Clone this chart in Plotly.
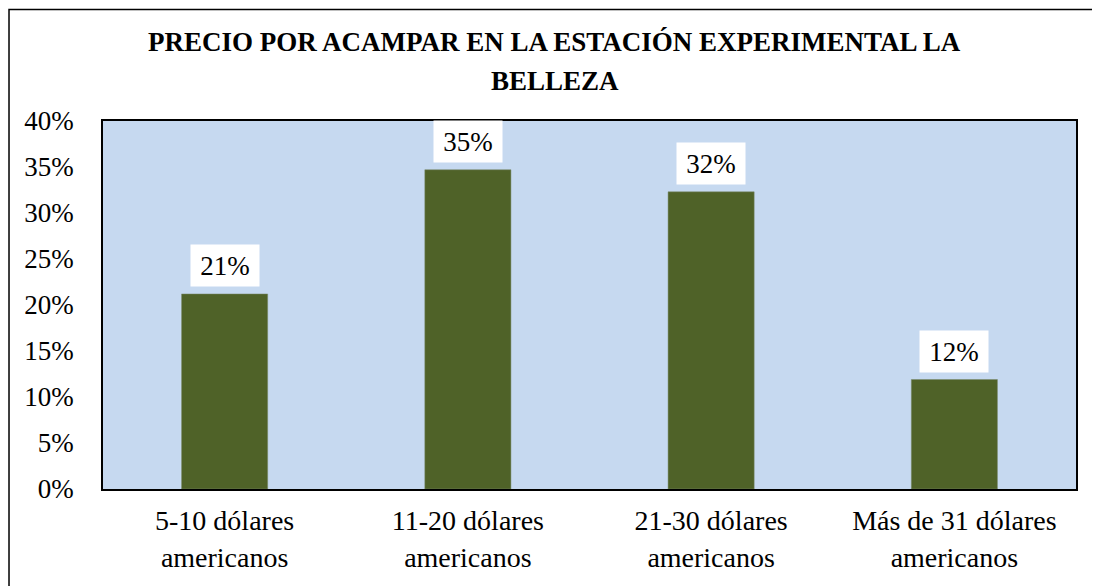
import plotly.graph_objects as go

categories = ["5-10 dólares<br>americanos", "11-20 dólares<br>americanos",
              "21-30 dólares<br>americanos", "Más de 31 dólares<br>americanos"]
values = [0.212, 0.347, 0.323, 0.119]
labels = ["21%", "35%", "32%", "12%"]
y_ticks = [0, 0.05, 0.10, 0.15, 0.20, 0.25, 0.30, 0.35, 0.40]
title_lines = ["PRECIO POR ACAMPAR EN LA ESTACIÓN EXPERIMENTAL LA", "BELLEZA"]

SERIF = "Liberation Serif, Times New Roman, serif"

fig = go.Figure()
fig.add_bar(x=categories, y=values, marker_color="#4F6228",
            marker_line=dict(color="#7a8a6a", width=0.5), width=0.354)

for cat, val, lab in zip(categories, values, labels):
    fig.add_annotation(x=cat, y=val, text=lab, showarrow=False,
                       yanchor="bottom", yshift=7, bgcolor="white",
                       width=60, height=33, borderpad=4,
                       font=dict(family=SERIF, size=27, color="black"))

# title set as two lines so the line spacing matches the original
for line, ty in zip(title_lines, [1.2147, 1.1087]):
    fig.add_annotation(xref="paper", yref="paper", x=0.4645, y=ty,
                       text=f"<b>{line}</b>", showarrow=False,
                       xanchor="center", yanchor="middle",
                       font=dict(family=SERIF, size=27, color="black"))

# outer chart border (only left/top edges fall inside the picture)
fig.add_shape(type="rect", xref="paper", yref="paper",
              x0=-0.0966, x1=1.1, y0=-0.4, y1=1.303,
              line=dict(color="black", width=1.5), layer="above")

fig.update_layout(
    width=1092, height=578,
    margin=dict(l=95, r=24, t=113, b=97),
    paper_bgcolor="white", plot_bgcolor="#C6D9F0",
    showlegend=False,
    font=dict(family=SERIF, size=27, color="black"),
)
fig.update_yaxes(range=[0, 0.40], tickvals=y_ticks, tickformat=".0%",
                 showgrid=False, zeroline=False, showline=True, mirror=True,
                 linecolor="black", linewidth=1.5, ticks="",
                 ticklabelstandoff=22,
                 tickfont=dict(family=SERIF, size=27), automargin=False)
fig.update_xaxes(showgrid=False, showline=True, mirror=True, linecolor="black",
                 linewidth=1.5, ticks="", ticklabelstandoff=6,
                 tickfont=dict(family=SERIF, size=28), automargin=False)

fig.write_html("out.html")
